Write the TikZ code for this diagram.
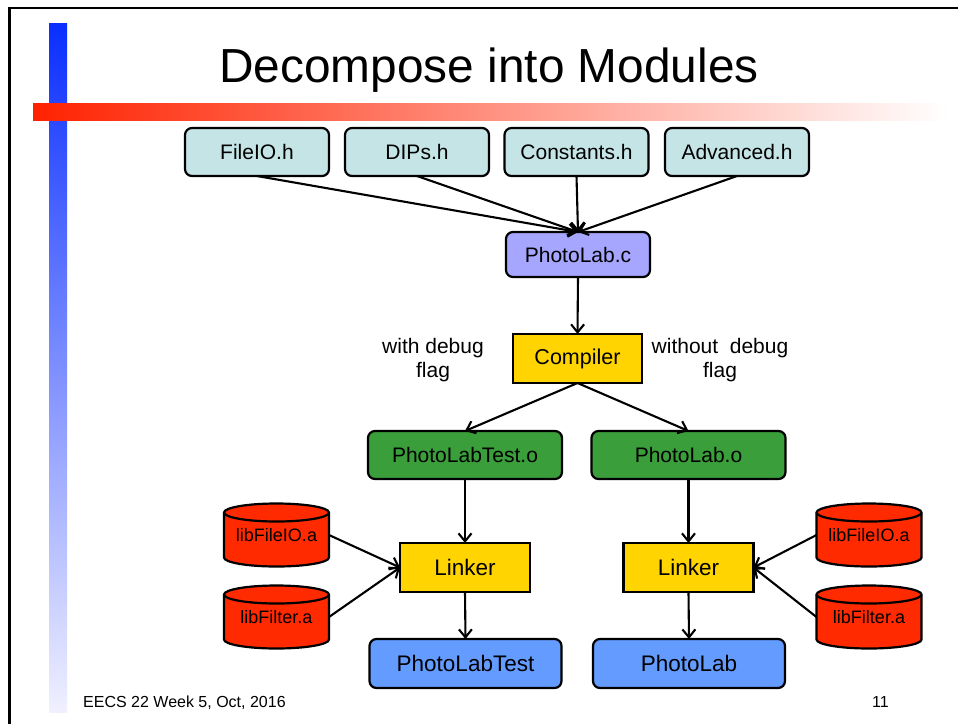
\documentclass[tikz,border=0pt]{standalone}
\usepackage{fontspec}
\setmainfont{Liberation Sans}
\usetikzlibrary{arrows.meta,backgrounds,calc}
\definecolor{topc}{RGB}{196,228,230}
\definecolor{srcc}{RGB}{166,166,255}
\definecolor{toolc}{RGB}{255,212,0}
\definecolor{objc}{RGB}{58,158,58}
\definecolor{exec}{RGB}{99,155,255}
\definecolor{cylc}{RGB}{255,42,0}
\definecolor{barblue}{RGB}{10,46,255}
\definecolor{barbluel}{RGB}{240,240,255}
\definecolor{barred}{RGB}{255,34,0}
\begin{document}
\begin{tikzpicture}[x=1pt,y=1pt,
  rbox/.style={draw=black, line width=2.2pt, rounded corners=7pt, inner sep=0pt, outer sep=0pt,
    font=\fontsize{21}{24}\selectfont},
  sbox/.style={draw=black, line width=2.2pt, inner sep=0pt, outer sep=0pt,
    font=\fontsize{21.5}{24}\selectfont, fill=toolc, minimum width=129, minimum height=49},
  hdr/.style={rbox, fill=topc, minimum width=144, minimum height=48},
  objbox/.style={rbox, fill=objc, minimum width=194, minimum height=48},
  exebox/.style={rbox, fill=exec, minimum width=192, minimum height=49, font=\fontsize{22.5}{26}\selectfont},
  cylnode/.style={inner sep=0pt, outer sep=0pt, minimum width=105, minimum height=63,
    font=\fontsize{18}{20}\selectfont},
  conn/.style={line width=2.1pt, -{Straight Barb[length=8pt,width=13pt,line width=2.1pt]}},
  lbl/.style={align=center, font=\fontsize{21}{24}\selectfont, inner sep=0pt}
]
\useasboundingbox (0,0) rectangle (958,-724);

% slide decoration
\shade[top color=barblue, bottom color=barbluel] (49,-23) rectangle (67,-712);
\shade[left color=barred, right color=white] (33,-103) rectangle (947,-120);
\draw[line width=2.4pt] (958,-8) -- (9.5,-8) -- (9.5,-724);

% title and footer
\node[anchor=base, font=\fontsize{47.8}{52}\selectfont, inner sep=0pt] (title) at (489,-82) {Decompose into Modules};
\node[anchor=base west, font=\fontsize{16}{18}\selectfont, inner sep=0pt] (foot) at (83,-707) {EECS 22 Week 5, Oct, 2016};
\node[anchor=base east, font=\fontsize{16}{18}\selectfont, inner sep=0pt] (page) at (889,-707) {11};

% headers
\node[hdr] (fileio) at (257,-152) {FileIO.h};
\node[hdr] (dips) at (417,-152) {DIPs.h};
\node[hdr] (consts) at (576.5,-152) {Constants.h};
\node[hdr] (adv) at (737,-152) {Advanced.h};

\node[rbox, fill=srcc, minimum width=144, minimum height=45] (plc) at (578,-254.5) {PhotoLab.c};
\node[sbox] (comp) at (577.5,-358.5) {Compiler};

\node[lbl] (withdbg) at (433,-360) {with debug\\flag};
\node[lbl] (wodbg) at (720,-360) {without~ debug\\flag};

\node[objbox] (plto) at (465,-455) {PhotoLabTest.o};
\node[objbox] (plo) at (688.5,-455) {PhotoLab.o};

\node[sbox, minimum width=130, font=\fontsize{22.5}{26}\selectfont] (linkl) at (465,-567.5) {Linker};
\node[sbox, minimum width=130, font=\fontsize{22.5}{26}\selectfont] (linkr) at (688.5,-567.5) {Linker};

\node[exebox] (plt) at (465.5,-663.5) {PhotoLabTest};
\node[exebox] (pl) at (689,-663.5) {PhotoLab};

% libraries (cylinders)
\node[cylnode] (lfa) at (276.5,-535) {\raisebox{-7pt}{libFileIO.a}};
\node[cylnode] (lfb) at (276.5,-617) {\raisebox{-6pt}{libFilter.a}};
\node[cylnode] (rfa) at (869,-535) {\raisebox{-7pt}{libFileIO.a}};
\node[cylnode] (rfb) at (869,-617) {\raisebox{-6pt}{libFilter.a}};

\begin{pgfonlayer}{background}
\foreach \n in {lfa,lfb,rfa,rfb}{
  \filldraw[fill=cylc, line width=2.2pt]
    ($(\n.north west)+(0,-9)$) -- ($(\n.south west)+(0,9)$)
    arc[start angle=180, end angle=360, x radius=52.5, y radius=9]
    -- ($(\n.north east)+(0,-9)$)
    arc[start angle=0, end angle=180, x radius=52.5, y radius=9] -- cycle;
  \draw[line width=2.2pt] ($(\n.north west)+(0,-9)$)
    arc[start angle=180, end angle=360, x radius=52.5, y radius=9];
}
\end{pgfonlayer}

% connectors
\draw[conn] (fileio.south) -- (plc.north);
\draw[conn] (dips.south) -- (plc.north);
\draw[conn] (consts.south) -- (plc.north);
\draw[conn] (adv.south) -- (plc.north);
\draw[conn] (plc.south) -- (comp.north);
\draw[conn] (comp.south) -- (plto.north);
\draw[conn] (comp.south) -- (plo.north);
\draw[conn] (plto.south) -- (linkl.north);
\draw[conn] (plo.south) -- (linkr.north);
\draw[conn] (linkl.south) -- (plt.north);
\draw[conn] (linkr.south) -- (pl.north);
\draw[conn] (lfa.east) -- (linkl.west);
\draw[conn] (lfb.east) -- (linkl.west);
\draw[conn] (rfa.west) -- (linkr.east);
\draw[conn] (rfb.west) -- (linkr.east);
\end{tikzpicture}
\end{document}
